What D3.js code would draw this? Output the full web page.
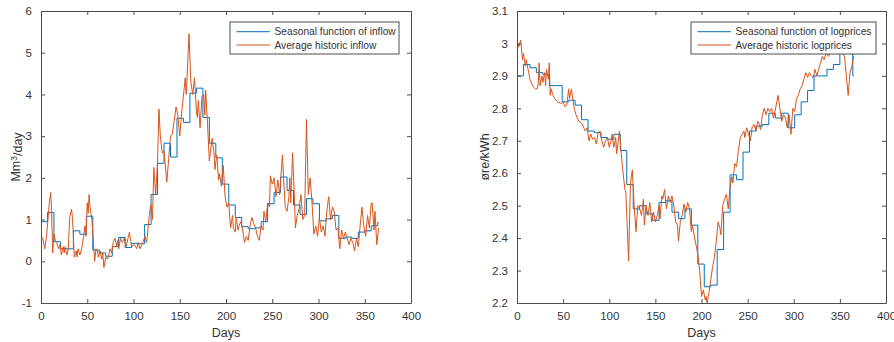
<!DOCTYPE html>
<html><head><meta charset="utf-8">
<script src="https://cdn.jsdelivr.net/npm/d3@7"></script>
<style>
html,body{margin:0;padding:0;background:#fff;}
text{font-family:"Liberation Sans",Arial,Helvetica,sans-serif;}
</style></head>
<body><svg id="chart" width="894" height="342"></svg>
<script>
// ---------- DATA ----------
const xTicks = [0, 50, 100, 150, 200, 250, 300, 350, 400];
const inflowYTicks = [-1, 0, 1, 2, 3, 4, 5, 6];
const priceYTicks = [2.2, 2.3, 2.4, 2.5, 2.6, 2.7, 2.8, 2.9, 3, 3.1];

// weekly seasonal function (week k starts at day 7k)
const inflowSeasonal = [0.95,1.17,0.47,0.30,0.30,0.73,0.65,1.08,0.27,0.20,0.12,0.35,0.57,0.33,0.43,0.42,0.88,1.60,2.35,2.83,2.50,3.43,3.33,4.03,4.15,3.45,2.83,2.48,1.85,1.35,1.05,0.83,0.78,0.80,0.95,1.38,1.65,2.02,1.70,1.35,1.12,1.50,1.38,0.97,1.02,1.10,0.55,0.58,0.55,0.70,0.73,0.85,0.93];
const priceSeasonal = [2.90,2.935,2.925,2.91,2.905,2.87,2.87,2.82,2.825,2.81,2.765,2.73,2.725,2.71,2.705,2.72,2.67,2.565,2.49,2.50,2.475,2.455,2.51,2.515,2.48,2.46,2.49,2.44,2.32,2.25,2.255,2.365,2.48,2.595,2.58,2.665,2.73,2.745,2.75,2.785,2.77,2.785,2.74,2.78,2.82,2.855,2.90,2.90,2.92,2.935,3.00,2.97,2.90];

// average historic inflow
const inflowDays = [0,2,4,6,9,10.5,11.5,12.6,14,15.5,17,19,20.5,22,24,25,26,28,29.5,31,33,34,35,36,38,39,40,42,44,46,47.6,48.7,50,51,52,53,55,58,59.5,61,62,64,65.6,66.7,68,70,72,74.7,76.5,78,80,82,83,84,86,88,90,92,95.6,98,101,103.5,105,107,110,112.5,114,115,117,118.7,120.5,122,124,126,127.5,129,131,133,136,138,140,142,146,148,150,152,156,157,158,160,162,164,166,168,169,170,172,174,176,177,178,180,182,185,187,188,190,192,193,195,197,199,201,203,204,205,207,208,210,211,213,214,216,218,220,222,224,226,228,230,232,234,236,238,240,241,243,245,247,248,250,252,254,256,258,261,262,264,266,268,269,270,272,274,275,277,279,281,283,285,287,289,291,293,295,297,299,301,303,305,307,309,311,313,315,317,319,321,323,325,327,329,331,333,335,337,339,341,343,345,347,349,351,353,355,357,358,360,361,363,365];
const inflowAvg = [0.6,0.55,0.3,0.6,1.4,1.65,1.2,0.2,0.65,0.5,0.45,0.3,0.4,0.15,0.35,0.2,0.35,0.15,0.3,1.05,1.25,1.05,0.6,0.1,0.25,0.1,0.3,0.15,0.3,0.6,0.85,0.6,1.4,1.15,1.6,1.3,1.0,0.0,0.3,0.25,0.1,0.25,0.05,0.2,-0.15,0.1,0.05,0.3,0.2,0.45,0.55,0.35,0.5,0.3,0.55,0.45,0.55,0.35,0.7,0.35,0.4,0.3,0.45,0.3,0.45,0.6,0.45,0.6,1.1,1.35,1.0,2.25,1.6,2.4,3.65,3.0,2.6,2.65,1.9,2.45,3.0,3.05,3.7,3.5,3.0,3.55,4.4,4.0,4.45,5.45,4.3,4.0,4.4,3.6,3.45,3.85,3.2,3.95,4.0,3.5,4.1,3.3,2.4,2.95,2.6,2.2,2.55,1.95,2.1,1.8,2.3,1.55,1.3,1.4,1.05,0.8,1.1,0.8,0.7,1.05,0.75,0.85,0.95,0.75,0.45,0.6,0.5,0.85,1.05,0.9,0.8,0.6,0.5,0.85,0.75,1.2,0.95,1.4,1.3,2.05,1.85,2.0,1.55,1.95,1.6,2.55,2.1,1.3,1.2,1.55,2.0,1.4,2.6,1.5,0.8,1.1,1.25,1.6,1.0,1.1,3.4,1.6,2.0,1.4,0.65,0.85,0.6,1.05,0.7,0.85,0.6,1.2,1.55,1.0,1.3,1.2,0.75,0.8,0.3,0.75,0.55,0.7,0.55,0.4,0.55,0.45,0.25,0.55,0.35,0.85,1.3,0.85,0.6,1.1,0.8,1.4,1.4,0.75,1.2,0.4,0.8];

// average historic logprices
const priceDays = [0,1,2,4,6,7,9,10,12,14,16,18,20,22,23,24,25,27,28,30,31,32,34,35,36,37,39,41,44,48,50,52,54,56,57,59,62,64,67,70,74,76,78,80,82,84,86,88,90,92,94,96,98,100,102,103,105,107,108,111,113,115,117,118,121,123,125,127,129,131,133,135,137,138,140,142,144,146,148,150,152,154,155,157,158,160,162,164,166,168,170,172,174,175,177,179,181,183,185,187,189,190,192,194,196,198,200,202,204,205,206,208,210,212,214,216,218,220,221,223,225,227,229,231,233,234,236,238,240,242,244,246,247,249,251,253,255,257,259,261,263,264,266,268,270,272,274,276,278,280,283,285,287,289,291,293,295,297,299,301,303,305,307,309,311,313,315,317,319,321,323,325,327,329,331,333,335,338,341,345,350,353,355,357,359,361,363,365];
const priceAvg = [2.95,3.0,2.99,3.01,2.95,2.97,2.93,2.95,2.92,2.89,2.875,2.865,2.86,2.86,2.875,2.94,2.87,2.9,2.88,2.91,2.87,2.92,2.89,2.94,2.84,2.86,2.84,2.83,2.82,2.815,2.82,2.805,2.81,2.86,2.83,2.86,2.8,2.78,2.76,2.755,2.73,2.74,2.7,2.72,2.705,2.71,2.69,2.725,2.73,2.7,2.68,2.7,2.71,2.68,2.7,2.72,2.68,2.71,2.66,2.73,2.66,2.6,2.55,2.54,2.33,2.57,2.61,2.5,2.42,2.5,2.49,2.47,2.52,2.44,2.5,2.47,2.51,2.45,2.48,2.45,2.47,2.5,2.46,2.53,2.52,2.55,2.49,2.53,2.51,2.53,2.5,2.45,2.44,2.39,2.45,2.47,2.505,2.48,2.51,2.49,2.42,2.44,2.41,2.38,2.35,2.3,2.22,2.24,2.21,2.22,2.2,2.23,2.27,2.31,2.34,2.39,2.45,2.43,2.41,2.5,2.52,2.535,2.49,2.56,2.59,2.57,2.63,2.62,2.67,2.71,2.72,2.73,2.71,2.74,2.72,2.7,2.745,2.75,2.73,2.76,2.75,2.735,2.78,2.8,2.78,2.8,2.79,2.8,2.77,2.795,2.84,2.8,2.76,2.78,2.77,2.74,2.78,2.72,2.8,2.79,2.83,2.84,2.86,2.87,2.89,2.91,2.895,2.91,2.9,2.895,2.92,2.9,2.92,2.94,2.96,2.95,2.97,2.96,2.99,2.98,3.0,2.97,2.96,2.9,2.84,2.91,2.93,2.96];

const panels = [
  {left:41, right:411, yDomain:[-1,6], yTicks:inflowYTicks, seasonal:inflowSeasonal, days:inflowDays, avg:inflowAvg,
   ylabel:"Mm³/day", ylabX:16, legendX:230, legendW:169,
   names:["Seasonal function of inflow","Average historic inflow"], fmt:d=>String(d)},
  {left:517, right:886, yDomain:[2.2,3.1], yTicks:priceYTicks, seasonal:priceSeasonal, days:priceDays, avg:priceAvg,
   ylabel:"øre/kWh", ylabX:485, legendX:691, legendW:185,
   names:["Seasonal function of logprices","Average historic logprices"], fmt:d=>d3.format(".1~f")(d)}
];

const plotTop = 11, plotBottom = 303;
const svg = d3.select("#chart");
const blue = "#0072BD", orange = "#D95319", axisCol = "#4d4d4d", textCol = "#333";

panels.forEach((p, i) => {
  const x = d3.scaleLinear().domain([0,400]).range([p.left, p.right]);
  const y = d3.scaleLinear().domain(p.yDomain).range([plotBottom, plotTop]);
  const g = svg.append("g");
  const clipId = "clip" + i;
  svg.append("clipPath").attr("id", clipId).append("rect")
    .attr("x", p.left).attr("y", plotTop).attr("width", p.right - p.left).attr("height", plotBottom - plotTop);

  const sData = p.seasonal.map((v,k) => [7*k, v]);
  sData.push([365, p.seasonal[p.seasonal.length-1]]);
  const stepLine = d3.line().x(d => x(d[0])).y(d => y(d[1])).curve(d3.curveStepAfter);
  g.append("path").attr("clip-path", `url(#${clipId})`)
    .attr("d", stepLine(sData)).attr("fill","none").attr("stroke", blue).attr("stroke-width", 1);

  const aData = p.days.map((d,k) => [d, p.avg[k]]);
  const line = d3.line().x(d => x(d[0])).y(d => y(d[1]));
  g.append("path").attr("clip-path", `url(#${clipId})`)
    .attr("d", line(aData)).attr("fill","none").attr("stroke", orange).attr("stroke-width", 1).attr("stroke-linejoin","round");

  const tl = 4;
  const xb = g.append("g").attr("transform", `translate(0,${plotBottom})`)
    .call(d3.axisBottom(x).tickValues(xTicks).tickSizeInner(-tl).tickSizeOuter(0).tickPadding(9));
  const xt = g.append("g").attr("transform", `translate(0,${plotTop})`)
    .call(d3.axisTop(x).tickValues(xTicks).tickSizeInner(-tl).tickSizeOuter(0).tickFormat(""));
  const yl = g.append("g").attr("transform", `translate(${p.left},0)`)
    .call(d3.axisLeft(y).tickValues(p.yTicks).tickSizeInner(-tl).tickSizeOuter(0).tickPadding(9).tickFormat(p.fmt));
  const yr = g.append("g").attr("transform", `translate(${p.right},0)`)
    .call(d3.axisRight(y).tickValues(p.yTicks).tickSizeInner(-tl).tickSizeOuter(0).tickFormat(""));
  [xb, xt, yl, yr].forEach(a => {
    a.select(".domain").attr("stroke", axisCol);
    a.selectAll(".tick line").attr("stroke", axisCol);
    a.selectAll(".tick text").attr("fill", textCol).style("font-size","11.5px")
      .style("font-family",'"Liberation Sans",Arial,sans-serif');
  });

  g.append("text").attr("x", (p.left+p.right)/2).attr("y", 337).attr("text-anchor","middle")
    .attr("fill", textCol).style("font-size","12.5px").text("Days");
  const yt = g.append("text").attr("transform", `translate(${p.ylabX},${(plotTop+plotBottom)/2}) rotate(-90)`)
    .attr("text-anchor","middle").attr("dy","0.35em").attr("fill", textCol).style("font-size","12.5px");
  if (i === 0) {
    yt.append("tspan").text("Mm");
    yt.append("tspan").attr("dy","-0.45em").style("font-size","8.5px").text("3");
    yt.append("tspan").attr("dy","0.45em").text("/day");
  } else {
    yt.text(p.ylabel);
  }

  const lg = g.append("g").attr("transform", `translate(${p.legendX},22)`);
  lg.append("rect").attr("width", p.legendW).attr("height", 32).attr("fill","#fff").attr("stroke", axisCol).attr("stroke-width",1);
  [blue, orange].forEach((c, k) => {
    const ly = 9.7 + k*13.3;
    lg.append("line").attr("x1", 6.5).attr("x2", 40).attr("y1", ly).attr("y2", ly).attr("stroke", c).attr("stroke-width", 1);
    lg.append("text").attr("x", 44.5).attr("y", ly).attr("dy","0.35em").attr("fill", textCol)
      .style("font-size","10.2px").text(p.names[k]);
  });
});
</script></body></html>
